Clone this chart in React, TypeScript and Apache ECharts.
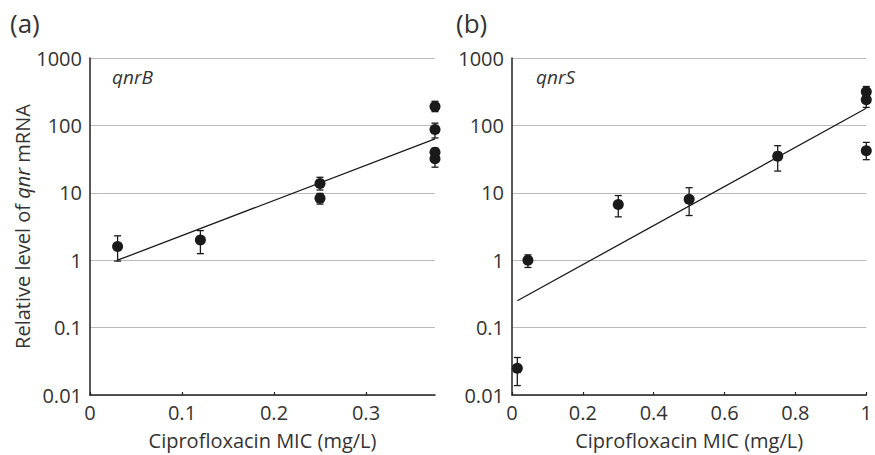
import React, { useEffect, useRef } from "react";
import * as echarts from "echarts";

// Panel (a): qnrB
const xA = [0.03, 0.12, 0.25, 0.25, 0.375, 0.375, 0.375, 0.375];
const yA = [1.6, 2.0, 13.7, 8.3, 190, 87, 40, 32];
const lowA = [0.97, 1.25, 11, 6.8, 160, 65, 35, 24];
const highA = [2.3, 2.75, 17, 9.8, 228, 108, 46, 37];
const fitA = [[0.03, 1.0], [0.375, 63]];

// Panel (b): qnrS
const xB = [0.015, 0.045, 0.3, 0.5, 0.75, 1, 1, 1];
const yB = [0.025, 1.0, 6.7, 8.0, 35, 316, 240, 42];
const lowB = [0.0138, 0.78, 4.4, 4.6, 21, 270, 185, 31];
const highB = [0.036, 1.2, 9.1, 11.9, 50, 378, 290, 56];
const fitB = [[0.015, 0.25], [1, 180]];

const yTickLabels = ["0.01", "0.1", "1", "10", "100", "1000"];

const FONT = "Open Sans";
const TXT = "#333";
const FS = 20;

function errBars(xs: number[], lo: number[], hi: number[], axisIdx: number) {
  return {
    type: "custom",
    xAxisIndex: axisIdx,
    yAxisIndex: axisIdx,
    data: xs.map((x, i) => [x, lo[i], hi[i]]),
    encode: { x: 0, y: [1, 2] },
    z: 3,
    renderItem: (params: any, api: any) => {
      const p1 = api.coord([api.value(0), api.value(1)]);
      const p2 = api.coord([api.value(0), api.value(2)]);
      const w = 3.5;
      const st = { stroke: "#1a1a1a", lineWidth: 1.3 };
      return {
        type: "group",
        children: [
          { type: "line", shape: { x1: p1[0], y1: p1[1], x2: p2[0], y2: p2[1] }, style: st },
          { type: "line", shape: { x1: p1[0] - w, y1: p1[1], x2: p1[0] + w, y2: p1[1] }, style: st },
          { type: "line", shape: { x1: p2[0] - w, y1: p2[1], x2: p2[0] + w, y2: p2[1] }, style: st },
        ],
      };
    },
  };
}

function yAxisCfg(gridIndex: number, withName: boolean) {
  return {
    type: "log",
    gridIndex,
    min: 0.01,
    max: 1000,
    logBase: 10,
    name: withName ? "Relative level of {i|qnr} mRNA" : "",
    nameLocation: "middle",
    nameGap: 58,
    nameTextStyle: {
      fontFamily: FONT,
      fontSize: FS,
      color: TXT,
      rich: { i: { fontFamily: FONT, fontSize: FS, fontStyle: "italic", color: TXT } },
    },
    axisLine: { show: true, lineStyle: { color: "#222", width: 1.5 } },
    axisTick: { show: false },
    splitLine: { show: true, lineStyle: { color: "#bbb", width: 1.2 } },
    minorTick: { show: false },
    axisLabel: {
      fontFamily: FONT,
      fontSize: FS,
      color: TXT,
      margin: 8,
      formatter: (v: number) => {
        const e = Math.round(Math.log10(v));
        return yTickLabels[e + 2] ?? "";
      },
    },
  };
}

function xAxisCfg(gridIndex: number, max: number, interval: number, digits: number) {
  const r = max / interval;
  return {
    type: "value",
    gridIndex,
    min: 0,
    max,
    interval,
    name: "Ciprofloxacin MIC (mg/L)",
    nameLocation: "middle",
    nameGap: 35,
    nameTextStyle: { fontFamily: FONT, fontSize: FS, color: TXT },
    axisLine: { show: true, lineStyle: { color: "#222", width: 1.5 } },
    axisTick: { show: true, inside: true, length: 3, lineStyle: { color: "#222", width: 1.2 } },
    splitLine: { show: false },
    axisLabel: {
      fontFamily: FONT,
      fontSize: FS,
      color: TXT,
      margin: 7,
      showMaxLabel: Math.abs(r - Math.round(r)) < 1e-9,
      formatter: (v: number) => {
        const q = v / interval;
        if (Math.abs(q - Math.round(q)) > 1e-6) return "";
        if (v === 0) return "0";
        if (Math.abs(v - 1) < 1e-9) return "1";
        return v.toFixed(digits);
      },
    },
  };
}

export default function App() {
  const ref = useRef<HTMLDivElement>(null);
  useEffect(() => {
    if (!ref.current) return;
    const chart = echarts.init(ref.current, undefined, { renderer: "svg" });
    chart.setOption({
      animation: false,
      backgroundColor: "#fff",
      grid: [
        { left: 90, top: 58, width: 345, height: 338 },
        { left: 512, top: 58, width: 360, height: 338 },
      ],
      xAxis: [xAxisCfg(0, 0.375, 0.1, 1), xAxisCfg(1, 1, 0.2, 1)],
      yAxis: [yAxisCfg(0, true), yAxisCfg(1, false)],
      graphic: [
        { type: "text", left: 10, top: 10, style: { text: "(a)", fontFamily: FONT, fontSize: 26, fill: TXT } },
        { type: "text", left: 456, top: 10, style: { text: "(b)", fontFamily: FONT, fontSize: 26, fill: TXT } },
        { type: "text", left: 112, top: 67, style: { text: "qnrB", fontFamily: FONT, fontSize: 19, fontStyle: "italic", fill: TXT } },
        { type: "text", left: 536, top: 67, style: { text: "qnrS", fontFamily: FONT, fontSize: 19, fontStyle: "italic", fill: TXT } },
      ],
      series: [
        {
          type: "line",
          xAxisIndex: 0,
          yAxisIndex: 0,
          data: fitA,
          symbol: "none",
          lineStyle: { color: "#1a1a1a", width: 1.3 },
          z: 2,
        },
        {
          type: "line",
          xAxisIndex: 1,
          yAxisIndex: 1,
          data: fitB,
          symbol: "none",
          lineStyle: { color: "#1a1a1a", width: 1.3 },
          z: 2,
        },
        errBars(xA, lowA, highA, 0),
        errBars(xB, lowB, highB, 1),
        {
          type: "scatter",
          xAxisIndex: 0,
          yAxisIndex: 0,
          data: xA.map((x, i) => [x, yA[i]]),
          symbol: "circle",
          symbolSize: 11,
          itemStyle: { color: "#1a1a1a", opacity: 1 },
          clip: false,
          z: 4,
        },
        {
          type: "scatter",
          xAxisIndex: 1,
          yAxisIndex: 1,
          data: xB.map((x, i) => [x, yB[i]]),
          symbol: "circle",
          symbolSize: 11,
          itemStyle: { color: "#1a1a1a", opacity: 1 },
          clip: false,
          z: 4,
        },
      ],
    });
    return () => chart.dispose();
  }, []);
  return (
    <div
      ref={ref}
      style={{ position: "fixed", left: 0, top: 0, width: 875, height: 455, background: "#fff" }}
    />
  );
}
